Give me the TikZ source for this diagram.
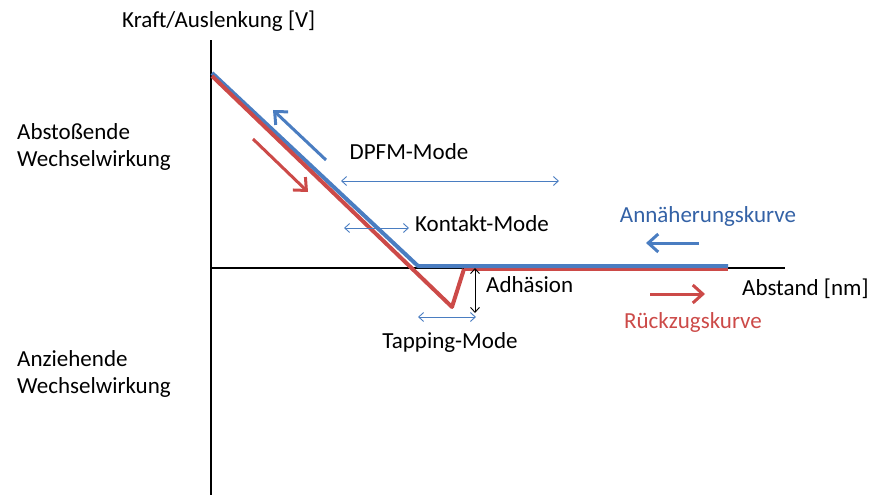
\documentclass[tikz,border=0pt]{standalone}
\usepackage{fontspec}
\setmainfont{Carlito}
\usetikzlibrary{arrows.meta}
\definecolor{cblue}{RGB}{74,125,193}
\definecolor{cred}{RGB}{204,74,72}
\definecolor{tblue}{RGB}{52,98,166}
\tikzset{
  lbl/.style={font=\fontsize{23}{27}\selectfont, inner sep=0pt},
  curve/.style={line width=4pt, line join=round},
  bigarrow/.style={line width=3pt, -{Straight Barb[length=10pt,width=18pt]}},
  thinarrow/.style={line width=0.9pt, cblue, {Straight Barb[length=5pt,width=9pt]}-{Straight Barb[length=5pt,width=9pt]}},
  axis/.style={line width=1.8pt, black}
}
\begin{document}
\begin{tikzpicture}[x=1pt,y=-1pt]
\useasboundingbox (0,0) rectangle (871,495);
% axes
\coordinate (o) at (211,268);
\coordinate (ytop) at (211,40);
\coordinate (ybot) at (211,495);
\coordinate (xend) at (785,268);
\draw[axis] (ybot) -- (ytop);
\draw[axis] (o) -- (xend);
% curves
\coordinate (b0) at (212,73);
\coordinate (b1) at (418,266);
\coordinate (b2) at (728,266);
\coordinate (r0) at (212,76);
\coordinate (r1) at (452,307);
\coordinate (r2) at (464,269);
\coordinate (r3) at (728,269);
\draw[curve, cred] (r2) -- (r3);
\draw[curve, cblue] (b0) -- (b1) -- (b2);
\draw[curve, cred] (r0) -- (r1) -- (r2);
% direction arrows on slope
\coordinate (ba0) at (326,160);
\coordinate (ba1) at (273,110);
\coordinate (ra0) at (253,139);
\coordinate (ra1) at (308,192);
\draw[bigarrow, cblue] (ba0) -- (ba1);
\draw[bigarrow, cred] (ra0) -- (ra1);
% mode arrows
\coordinate (d0) at (341,181);
\coordinate (d1) at (559,181);
\coordinate (k0) at (344,228);
\coordinate (k1) at (409,228);
\coordinate (t0) at (418,317);
\coordinate (t1) at (476,317);
\draw[thinarrow] (d0) -- (d1);
\draw[thinarrow] (k0) -- (k1);
\draw[thinarrow] (t0) -- (t1);
% adhesion
\coordinate (a0) at (475,268);
\coordinate (a1) at (475,313);
\draw[line width=0.9pt, {Straight Barb[length=5pt,width=9pt]}-{Straight Barb[length=5pt,width=9pt]}] (a0) -- (a1);
% legend arrows
\coordinate (la0) at (699,243);
\coordinate (la1) at (646,243);
\coordinate (lr0) at (650,294);
\coordinate (lr1) at (705,294);
\draw[bigarrow, cblue] (la0) -- (la1);
\draw[bigarrow, cred] (lr0) -- (lr1);
% labels
\node[lbl, anchor=west] (ylab) at (122,21) {Kraft/Auslenkung [V]};
\node[lbl, anchor=west, align=left] (abst) at (17,147) {Abstoßende\\Wechselwirkung};
\node[lbl, anchor=west, align=left] (anz) at (17,374) {Anziehende\\Wechselwirkung};
\node[lbl] (dpfm) at (409,152) {DPFM-Mode};
\node[lbl] (kont) at (482,224) {Kontakt-Mode};
\node[lbl, anchor=west] (adh) at (486,285) {Adhäsion};
\node[lbl] (tap) at (450,342) {Tapping-Mode};
\node[lbl, text=tblue] (ann) at (708,216) {Annäherungskurve};
\node[lbl, anchor=west] (abstand) at (742,289) {Abstand [nm]};
\node[lbl, text=cred] (rueck) at (693,322) {Rückzugskurve};
\end{tikzpicture}
\end{document}
